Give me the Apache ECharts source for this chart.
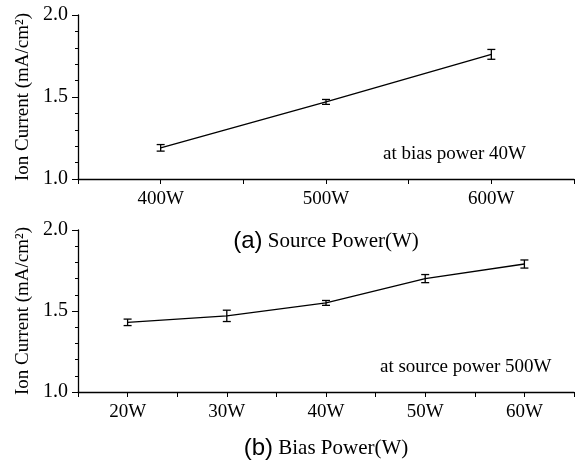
<!DOCTYPE html>
<html>
<head>
<meta charset="utf-8">
<script src="https://cdn.jsdelivr.net/npm/echarts@6/dist/echarts.min.js"></script>
<style>html,body{margin:0;padding:0;background:#fff}#c{width:582px;height:465px}</style>
</head>
<body>
<div id="c"></div>
<script>
// Panel (a): source power sweep at bias power 40W
var sourcePower = [400, 500, 600];
var ionCurrentA = [1.19, 1.47, 1.76];
var errorA = [0.02, 0.015, 0.03];
// Panel (b): bias power sweep at source power 500W
var biasPower = [20, 30, 40, 50, 60];
var ionCurrentB = [1.43, 1.47, 1.55, 1.70, 1.79];
var errorB = [0.02, 0.035, 0.015, 0.025, 0.025];
var yTicks = [1.0, 1.5, 2.0];

var FONT = 'Liberation Serif';
function pairs(xs, ys) { return xs.map(function (x, i) { return [x, ys[i]]; }); }
function errData(xs, ys, es) { return xs.map(function (x, i) { return [x, ys[i] - es[i], ys[i] + es[i]]; }); }

function errRender(params, api) {
  var x = api.value(0);
  var lo = api.coord([x, api.value(1)]);
  var hi = api.coord([x, api.value(2)]);
  var w = 4;
  var st = { stroke: '#000', lineWidth: 1.3 };
  return {
    type: 'group',
    children: [
      { type: 'line', shape: { x1: lo[0], y1: lo[1], x2: hi[0], y2: hi[1] }, style: st },
      { type: 'line', shape: { x1: lo[0] - w, y1: lo[1], x2: lo[0] + w, y2: lo[1] }, style: st },
      { type: 'line', shape: { x1: hi[0] - w, y1: hi[1], x2: hi[0] + w, y2: hi[1] }, style: st }
    ]
  };
}

function yAxis(gi) {
  return {
    type: 'value', gridIndex: gi, min: yTicks[0], max: yTicks[yTicks.length - 1], interval: 0.5,
    name: 'Ion Current (mA/cm²)', nameLocation: 'middle', nameGap: 42,
    nameTextStyle: { fontFamily: FONT, fontSize: 19, color: '#000' },
    axisLine: { show: true, lineStyle: { color: '#000', width: 1.3 } },
    axisTick: { show: true, length: 6, lineStyle: { color: '#000' } },
    minorTick: { show: true, splitNumber: 5, length: 3, lineStyle: { color: '#000' } },
    splitLine: { show: false },
    axisLabel: { fontFamily: FONT, fontSize: 20, color: '#000', margin: 10, formatter: function (v) { return v.toFixed(1); } }
  };
}

function xAxis(gi, min, max, interval, labelStep, letter, title, gap) {
  return {
    type: 'value', gridIndex: gi, min: min, max: max, interval: interval,
    name: '{a|(' + letter + ')}{t| ' + title + '}', nameLocation: 'middle', nameGap: gap,
    nameTextStyle: { rich: {
      a: { fontFamily: 'Liberation Sans', fontSize: 24, color: '#000' },
      t: { fontFamily: FONT, fontSize: 21, color: '#000' }
    } },
    axisLine: { show: true, lineStyle: { color: '#000', width: 1.3 } },
    axisTick: { show: true, length: 5, lineStyle: { color: '#000' } },
    splitLine: { show: false },
    axisLabel: { fontFamily: FONT, fontSize: 19, color: '#000', margin: 11, showMinLabel: true, showMaxLabel: true,
      formatter: function (v) { return (v % labelStep === 0) ? v + 'W' : ''; } }
  };
}

var chart = echarts.init(document.getElementById('c'));
chart.setOption({
  animation: false,
  backgroundColor: '#fff',
  grid: [
    { left: 78, right: 8, top: 15, height: 164 },
    { left: 78, right: 8, top: 230, height: 162 }
  ],
  xAxis: [
    xAxis(0, 350, 650, 50, 100, 'a', 'Source Power(W)', 50),
    xAxis(1, 15, 65, 5, 10, 'b', 'Bias Power(W)', 44)
  ],
  yAxis: [yAxis(0), yAxis(1)],
  graphic: [
    { type: 'text', left: 383, top: 145, style: { text: 'at bias power 40W', font: '19px "Liberation Serif"', fill: '#000' } },
    { type: 'text', left: 380, top: 358, style: { text: 'at source power 500W', font: '19px "Liberation Serif"', fill: '#000' } }
  ],
  series: [
    { type: 'line', xAxisIndex: 0, yAxisIndex: 0, data: pairs(sourcePower, ionCurrentA), showSymbol: false, symbol: 'none',
      lineStyle: { color: '#000', width: 1.4 } },
    { type: 'custom', xAxisIndex: 0, yAxisIndex: 0, data: errData(sourcePower, ionCurrentA, errorA), renderItem: errRender, encode: { x: 0, y: [1, 2] } },
    { type: 'line', xAxisIndex: 1, yAxisIndex: 1, data: pairs(biasPower, ionCurrentB), showSymbol: false, symbol: 'none',
      lineStyle: { color: '#000', width: 1.4 } },
    { type: 'custom', xAxisIndex: 1, yAxisIndex: 1, data: errData(biasPower, ionCurrentB, errorB), renderItem: errRender, encode: { x: 0, y: [1, 2] } }
  ]
});
</script>
</body>
</html>
